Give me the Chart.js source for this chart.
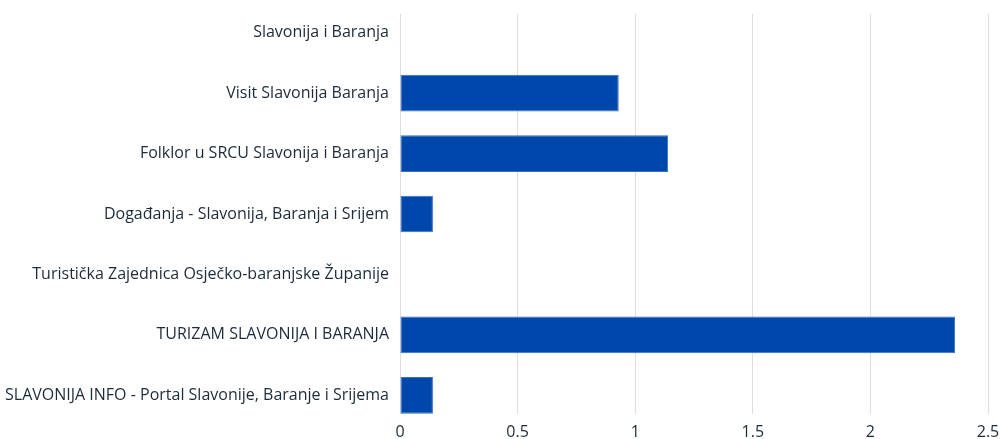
<!DOCTYPE html>
<html>
<head>
<meta charset="utf-8">
<script src="https://cdn.jsdelivr.net/npm/chart.js@4"></script>
<style>
  html, body { margin: 0; padding: 0; background: #fff; overflow: hidden; }
  #wrap { position: relative; width: 1000px; height: 439px; }
</style>
</head>
<body>
<div id="wrap"><canvas id="chart"></canvas></div>
<script>
const categories = [
  "Slavonija i Baranja",
  "Visit Slavonija Baranja",
  "Folklor u SRCU Slavonija i Baranja",
  "Događanja - Slavonija, Baranja i Srijem",
  "Turistička Zajednica Osječko-baranjske Županije",
  "TURIZAM SLAVONIJA I BARANJA",
  "SLAVONIJA INFO - Portal Slavonije, Baranje i Srijema"
];
const values = [0, 0.93, 1.14, 0.14, 0, 2.36, 0.14];
const xMin = 0;
const xMax = 2.5;
const xStep = 0.5;

const labelColor = '#1c2b3a';
const barColor = '#0047ab';
const font = { family: 'Open Sans', size: 16 };

// linear index axis so the gridlines only span from the first bar top to the last bar bottom
const points = values.map((v, i) => ({ x: v, y: i }));
const yPad = 0.31;

new Chart(document.getElementById('chart'), {
  type: 'bar',
  data: {
    datasets: [{
      data: points,
      backgroundColor: barColor,
      borderColor: '#3a6fc4',
      borderWidth: 1,
      borderSkipped: false,
      barPercentage: 0.76,
      categoryPercentage: 0.8
    }]
  },
  options: {
    indexAxis: 'y',
    responsive: true,
    maintainAspectRatio: false,
    animation: false,
    layout: { padding: { top: 14, right: 12, left: 0, bottom: 0 } },
    plugins: { legend: { display: false }, tooltip: { enabled: false } },
    scales: {
      x: {
        type: 'linear',
        min: xMin, max: xMax,
        ticks: { stepSize: xStep, color: labelColor, padding: 9, font,
          callback: (v) => String(v) },
        grid: { color: '#dedede', lineWidth: 1, drawTicks: false },
        border: { display: false },
        afterFit: (axis) => { axis.height = 25; axis.paddingLeft = 0; axis.paddingRight = 0; }
      },
      y: {
        type: 'linear',
        reverse: true,
        offset: false,
        bounds: 'data',
        min: -yPad,
        max: categories.length - 1 + yPad,
        afterBuildTicks: (axis) => {
          axis.ticks = categories.map((c, i) => ({ value: i }));
        },
        ticks: { color: labelColor, padding: 11, font,
          callback: (v) => categories[v] },
        grid: { display: false, drawTicks: false, offset: false },
        border: { display: false },
        afterFit: (axis) => { axis.width = 400; axis.paddingTop = 0; axis.paddingBottom = 0; }
      }
    }
  }
});
</script>
</body>
</html>
